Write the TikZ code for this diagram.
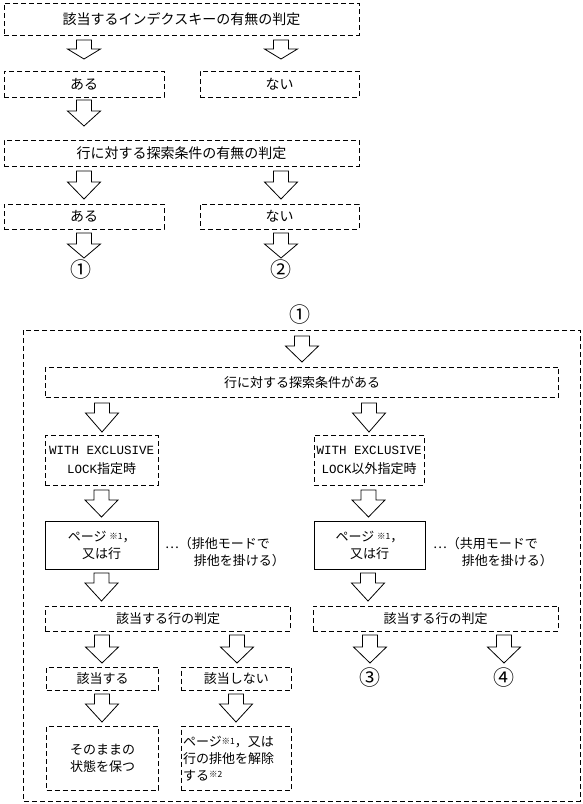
\documentclass[tikz,border=0pt]{standalone}
\usepackage{fontspec}
\setmainfont{Noto Sans CJK JP}
\newfontfamily\monof{Liberation Mono}
\newcommand\kome[1]{\raisebox{2.5pt}{\fontsize{8.5}{8.5}\selectfont ※#1}}
\newcommand\barrow[4]{%
  \draw[barrowline] (#1-7.5,#2) -- (#1+7.5,#2) -- (#1+7.5,#3) -- (#1+16.5,#3)
    -- (#1,#4) -- (#1-16.5,#3) -- (#1-7.5,#3) -- cycle;}
\tikzset{
  barrowline/.style={draw=black,line width=0.8pt,fill=white,line join=miter},
  dbox/.style={draw=black,line width=0.8pt,dash pattern=on 5pt off 3pt,
    inner sep=0pt,align=center},
  sbox/.style={draw=black,line width=0.8pt,inner sep=0pt,align=center},
  topf/.style={font=\fontsize{14}{17}\selectfont},
  lowf/.style={font=\fontsize{13}{16.7}\selectfont},
  circf/.style={font=\fontsize{21}{21}\selectfont},
  lbl/.style={inner sep=0pt},
}
\begin{document}
\begin{tikzpicture}[x=1pt,y=-1pt]
\useasboundingbox (0,0) rectangle (582,804);
% ---------- top section ----------
\node[dbox,topf,minimum width=355pt,minimum height=32pt] (b1) at (181.5,19) {該当するインデクスキーの有無の判定};
\barrow{84}{40}{49}{59}
\barrow{281}{40}{49}{59}
\node[dbox,topf,minimum width=160pt,minimum height=26pt] (b2) at (84,84) {ある};
\node[dbox,topf,minimum width=159pt,minimum height=26pt] (b3) at (279.5,84) {ない};
\barrow{84}{100}{111}{126}
\node[dbox,topf,minimum width=355pt,minimum height=26pt] (b4) at (181.5,153) {行に対する探索条件の有無の判定};
\barrow{84}{171}{182}{199}
\barrow{281}{171}{182}{199}
\node[dbox,topf,minimum width=160pt,minimum height=25pt] (b5) at (84,216.5) {ある};
\node[dbox,topf,minimum width=159pt,minimum height=25pt] (b6) at (279.5,216.5) {ない};
\barrow{84}{233}{244}{258}
\barrow{281}{233}{244}{258}
\node[lbl,circf] (n1) at (81,270) {①};
\node[lbl,circf] (n2) at (281,270) {②};
% ---------- lower section ----------
\node[lbl,circf] (m1) at (300,315) {①};
\draw[line width=0.8pt,dash pattern=on 5pt off 3pt] (23,330) rectangle (580,801);
\barrow{302}{336}{346}{362}
\node[dbox,lowf,minimum width=513pt,minimum height=30pt] (c1) at (302,382.3) {行に対する探索条件がある};
\barrow{102}{403}{413}{432}
\barrow{369}{403}{413}{432}
\node[dbox,lowf,minimum width=112.6pt,minimum height=49.3pt] (c2) at (101.7,460.3)
  {{\monof\fontsize{12.5}{19}\selectfont WITH EXCLUSIVE}\\[2pt]{\monof\fontsize{12.5}{19}\selectfont LOCK}指定時};
\node[dbox,lowf,minimum width=110.5pt,minimum height=49.3pt] (c3) at (369.2,460.3)
  {{\monof\fontsize{12.5}{19}\selectfont WITH EXCLUSIVE}\\[2pt]{\monof\fontsize{12.5}{19}\selectfont LOCK}以外指定時};
\barrow{101.5}{490}{500}{517}
\barrow{368.5}{490}{500}{517}
\node[sbox,lowf,minimum width=112.6pt,minimum height=47.3pt] (s1) at (101.7,545.3) {ページ \kome{1}，\\又は行};
\node[sbox,lowf,minimum width=111pt,minimum height=47.3pt] (s2) at (369.5,545.3) {ページ \kome{1}，\\又は行};
\node[lbl,lowf,anchor=west,align=left] (a1) at (165,552) {⋯（排他モードで\\\hspace*{2.2em}排他を掛ける）};
\node[lbl,lowf,anchor=west,align=left] (a2) at (433,552) {⋯（共用モードで\\\hspace*{2.2em}排他を掛ける）};
\barrow{101.5}{573}{583}{601}
\barrow{368}{573}{583}{601}
\node[dbox,lowf,minimum width=245.3pt,minimum height=25pt] (d1) at (168,618.5) {該当する行の判定};
\node[dbox,lowf,minimum width=245.4pt,minimum height=25pt] (d2) at (435.7,618.5) {該当する行の判定};
\barrow{102}{635}{647}{663}
\barrow{237}{635}{647}{663}
\barrow{370}{635}{647}{663}
\barrow{504}{635}{647}{663}
\node[lbl,circf] (n3) at (370,678) {③};
\node[lbl,circf] (n4) at (504,678) {④};
\node[dbox,lowf,minimum width=112pt,minimum height=23pt] (e1) at (102.6,678.8) {該当する};
\node[dbox,lowf,minimum width=110.8pt,minimum height=23pt] (e2) at (236.4,678.8) {該当しない};
\barrow{102}{694}{704}{722}
\barrow{236}{694}{704}{722}
\node[dbox,lowf,minimum width=112pt,minimum height=63.6pt] (f1) at (102.6,758.5) {そのままの\\状態を保つ};
\node[dbox,lowf,minimum width=110.8pt,minimum height=63.6pt,inner xsep=2pt,text width=106.8pt,align=left] (f2) at (236.4,758.5)
  {ページ\kome{1}，又は\\行の排他を解除\\する\kome{2}};
\end{tikzpicture}
\end{document}
